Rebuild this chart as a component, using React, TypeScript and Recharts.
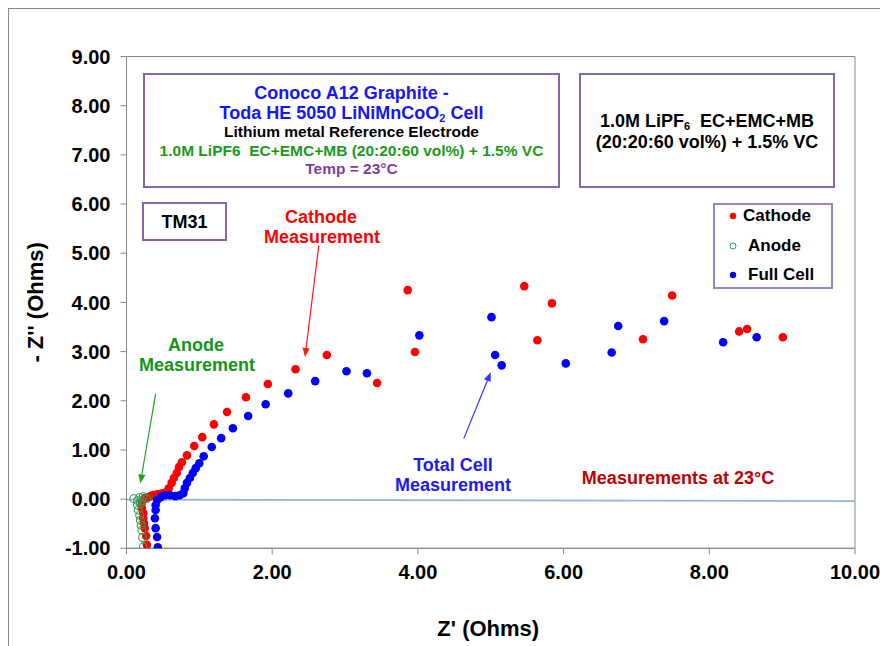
import React from 'react';
import { ScatterChart, Scatter, XAxis, YAxis, ReferenceLine, ReferenceArea, Legend } from 'recharts';

const FONT = "'Liberation Sans', Arial, Helvetica, sans-serif";

const xTicks = [0, 2, 4, 6, 8, 10];
const yTicks = [-1, 0, 1, 2, 3, 4, 5, 6, 7, 8, 9];
const seriesOrder = ['Cathode', 'Anode', 'Full Cell'];

// Z' (Ohms), -Z'' (Ohms)
const cathode: [number, number][] = [
  [0.28, -0.93], [0.27, -0.75], [0.25, -0.59], [0.24, -0.49], [0.23, -0.39], [0.23, -0.28],
  [0.21, -0.18], [0.21, -0.08], [0.25, 0.02], [0.30, 0.04], [0.33, 0.06], [0.36, 0.08],
  [0.40, 0.09], [0.43, 0.10], [0.47, 0.11], [0.50, 0.12], [0.53, 0.13], [0.56, 0.14],
  [0.58, 0.22], [0.62, 0.33], [0.65, 0.43], [0.69, 0.53], [0.72, 0.65], [0.76, 0.75],
  [0.83, 0.89], [0.93, 1.08], [1.04, 1.26], [1.20, 1.52], [1.38, 1.77], [1.64, 2.07],
  [1.94, 2.34], [2.32, 2.64], [2.75, 2.93], [3.44, 2.36], [3.86, 4.25], [3.96, 2.99],
  [5.46, 4.33], [5.64, 3.23], [5.84, 3.98], [7.09, 3.25], [7.49, 4.14], [8.41, 3.41],
  [8.52, 3.46], [9.01, 3.29],
];

const anode: [number, number][] = [
  [0.10, 0.01], [0.18, 0.03], [0.23, 0.05], [0.28, 0.01], [0.15, -0.03], [0.21, -0.03],
  [0.19, -0.09], [0.15, -0.12], [0.16, -0.22], [0.18, -0.33], [0.19, -0.43], [0.20, -0.53],
  [0.21, -0.63], [0.22, -0.78], [0.23, -0.97],
];

const fullCell: [number, number][] = [
  [0.43, -0.98], [0.42, -0.77], [0.40, -0.59], [0.39, -0.39], [0.40, -0.22], [0.40, -0.12],
  [0.42, -0.02], [0.47, 0.04], [0.53, 0.08], [0.60, 0.08], [0.67, 0.06], [0.73, 0.08],
  [0.78, 0.12], [0.80, 0.22], [0.83, 0.33], [0.87, 0.43], [0.91, 0.53], [0.95, 0.63],
  [1.00, 0.73], [1.06, 0.87], [1.17, 1.06], [1.30, 1.24], [1.46, 1.44], [1.67, 1.69],
  [1.91, 1.93], [2.22, 2.15], [2.59, 2.40], [3.02, 2.60], [3.30, 2.56], [4.02, 3.33],
  [5.01, 3.70], [5.06, 2.93], [5.15, 2.72], [6.03, 2.76], [6.66, 2.98], [6.75, 3.52],
  [7.38, 3.62], [8.19, 3.19], [8.65, 3.29],
];

const baselineSegment: [number, number][] = [[0, -0.01], [10, -0.04]];
const cathodeArrow: [number, number][] = [[2.64, 5.16], [2.45, 2.89]];
const anodeArrow: [number, number][] = [[0.40, 2.14], [0.19, 0.32]];
const cellArrow: [number, number][] = [[4.63, 1.23], [5.00, 2.58]];

const toPts = (a: [number, number][]) => a.map(([x, y]) => ({ x, y }));
const toSeg = (a: [number, number][]) => a.map(([x, y]) => ({ x, y }));

const seriesStyle: Record<string, { color: string; open: boolean }> = {
  Cathode: { color: '#ff0000', open: false },
  Anode: { color: '#2aa152', open: true },
  'Full Cell': { color: '#0000ff', open: false },
};

const dot = (fill: string) => (p: any) => <circle cx={p.cx} cy={p.cy} r={4.3} fill={fill} />;
const ring = (stroke: string) => (p: any) => (
  <circle cx={p.cx} cy={p.cy} r={3.9} fill="none" stroke={stroke} strokeWidth={1.1} />
);

const arrowShape = (color: string) => (props: any) => {
  const x1 = Number(props.x1), y1 = Number(props.y1), x2 = Number(props.x2), y2 = Number(props.y2);
  const dx = x2 - x1, dy = y2 - y1;
  const len = Math.hypot(dx, dy) || 1;
  const ux = dx / len, uy = dy / len;
  const hl = 9, hw = 3.6;
  const bx = x2 - ux * hl, by = y2 - uy * hl;
  const pts = `${x2},${y2} ${bx - uy * hw},${by + ux * hw} ${bx + uy * hw},${by - ux * hw}`;
  return (
    <g>
      <line x1={x1} y1={y1} x2={bx} y2={by} stroke={color} strokeWidth={1.2} />
      <polygon points={pts} fill={color} />
    </g>
  );
};

const LegendBox = (props: any) => {
  const raw = props.payload || [];
  const payload = [...raw].sort(
    (a: any, b: any) => seriesOrder.indexOf(a.value) - seriesOrder.indexOf(b.value),
  );
  return (
    <div
      style={{
        boxSizing: 'border-box', width: 120, height: 86, border: '2px solid #9a86bf',
        background: '#fff', fontFamily: FONT, fontWeight: 'bold', fontSize: 17, color: '#000',
        position: 'relative',
      }}
    >
      {payload.map((e: any, i: number) => {
        const st = seriesStyle[e.value] || { color: e.color, open: false };
        const cy = 11 + i * 29.5;
        return (
          <div key={e.value} style={{ position: 'absolute', left: 0, top: cy - 10, height: 20, width: 116 }}>
            <svg width={12} height={20} style={{ position: 'absolute', left: 12, top: 0 }}>
              {st.open ? (
                <circle cx={6} cy={10} r={3} fill="none" stroke={st.color} strokeWidth={1} />
              ) : (
                <circle cx={6} cy={10} r={3.2} fill={st.color} />
              )}
            </svg>
            <span style={{ position: 'absolute', left: i === 0 ? 28 : 33, top: 0, lineHeight: '20px', whiteSpace: 'nowrap' }}>
              {e.value}
            </span>
          </div>
        );
      })}
    </div>
  );
};

const textLine = (
  text: React.ReactNode, left: number, width: number, cy: number, size: number, color: string,
) => {
  const h = Math.round(size);
  return (
    <div
      style={{
        position: 'absolute', left, width, top: cy - h / 2, height: h, lineHeight: `${h}px`,
        textAlign: 'center', fontFamily: FONT, fontWeight: 'bold', fontSize: size, color,
        whiteSpace: 'pre',
      }}
    >
      {text}
    </div>
  );
};

const boxStyle = (left: number, top: number, width: number, height: number): React.CSSProperties => ({
  position: 'absolute', left, top, width, height, boxSizing: 'border-box',
  border: '2px solid #8567a8', background: '#fff',
});

const sub = (t: string) => (
  <span style={{ fontSize: 11, position: 'relative', top: 3, lineHeight: 0 }}>{t}</span>
);

const YLabel = (props: any) => {
  const vb = props.viewBox || { x: 57.5, y: 47.5, width: 60, height: 491.8 };
  const x = vb.x - 30.5;
  const y = vb.y + vb.height / 2;
  return (
    <text
      x={x} y={y} transform={`rotate(-90, ${x}, ${y})`} textAnchor="middle" dominantBaseline="central"
      fontFamily={FONT} fontWeight="bold" fontSize={22} fill="#000"
    >
      - Z'' (Ohms)
    </text>
  );
};

const XLabel = (props: any) => {
  const vb = props.viewBox || { x: 117.5, y: 539.3, width: 728.5, height: 30 };
  const x = vb.x + vb.width / 2 - 2.5;
  const y = vb.y + 80;
  return (
    <text x={x} y={y} textAnchor="middle" dominantBaseline="central" fontFamily={FONT} fontWeight="bold" fontSize={22} fill="#000">
      Z' (Ohms)
    </text>
  );
};

const tickStyle = { fill: '#000', fontSize: 20, fontWeight: 'bold', fontFamily: FONT };

export default function App() {
  return (
    <div
      style={{
        position: 'relative', width: 880, height: 638, borderLeft: '1px solid #8a8a8a',
        borderTop: '1px solid #8a8a8a', overflow: 'hidden', background: '#fff',
      }}
    >
      <style>{'html,body{overflow:hidden;}'}</style>
      <ScatterChart
        width={879}
        height={637}
        margin={{ top: 47.5, right: 33, bottom: 67.7, left: 57.5 }}
      >
        <XAxis
          type="number" dataKey="x" domain={[0, 10]} ticks={xTicks} allowDataOverflow
          tickFormatter={(v: number) => v.toFixed(2)} tick={tickStyle}
          axisLine={{ stroke: '#868686' }} tickLine={{ stroke: '#868686' }} tickSize={6} tickMargin={10}
          height={30} label={{ content: XLabel }}
        />
        <YAxis
          type="number" dataKey="y" domain={[-1, 9]} ticks={yTicks} allowDataOverflow
          tickFormatter={(v: number) => v.toFixed(2)} tick={tickStyle}
          axisLine={{ stroke: '#868686' }} tickLine={{ stroke: '#868686' }} tickSize={6} tickMargin={10}
          width={60} label={{ content: YLabel }}
        />
        <ReferenceArea x1={0} x2={10} y1={-1} y2={9} fill="none" stroke="#868686" strokeWidth={1} />
        <ReferenceLine segment={toSeg(baselineSegment)} stroke="#95b3d7" strokeWidth={1.6} />
        <Scatter name="Cathode" data={toPts(cathode)} fill="#ff0000" shape={dot('#ff0000')} isAnimationActive={false} />
        <Scatter name="Anode" data={toPts(anode)} fill="#2aa152" shape={ring('#2aa152')} isAnimationActive={false} />
        <Scatter name="Full Cell" data={toPts(fullCell)} fill="#0000ff" shape={dot('#0000ff')} isAnimationActive={false} />
        <ReferenceLine segment={toSeg(cathodeArrow)} shape={arrowShape('#ff1a1a')} />
        <ReferenceLine segment={toSeg(anodeArrow)} shape={arrowShape('#23a023')} />
        <ReferenceLine segment={toSeg(cellArrow)} shape={arrowShape('#3535ff')} />
        <Legend
          layout="vertical" align="center" verticalAlign="middle"
          content={(p: any) => <LegendBox payload={p.payload} />}
          wrapperStyle={{ position: 'absolute', left: 704, top: 194, width: 120, height: 86, margin: 0 }}
        />
      </ScatterChart>

      {/* Title box */}
      <div style={boxStyle(134, 64, 417, 115)} />
      {textLine('Conoco A12 Graphite -', 134, 417, 84.3, 18, '#1414ff')}
      {textLine(<span>Toda HE 5050 LiNiMnCoO{sub('2')} Cell</span>, 134, 417, 104, 18, '#1414ff')}
      {textLine('Lithium metal Reference Electrode', 134, 417, 123.4, 15.5, '#000')}
      {textLine('1.0M LiPF6  EC+EMC+MB (20:20:60 vol%) + 1.5% VC', 134, 417, 141.7, 15.5, '#1a9a1a')}
      {textLine('Temp = 23°C', 134, 417, 160, 15.5, '#7f3fa0')}

      {/* Electrolyte box */}
      <div style={boxStyle(570, 64, 256, 115)} />
      {textLine(<span>1.0M LiPF{sub('6')}  EC+EMC+MB</span>, 570, 256, 111.8, 18, '#000')}
      {textLine('(20:20:60 vol%) + 1.5% VC', 570, 256, 132.5, 18, '#000')}

      {/* TM31 box */}
      <div style={boxStyle(133, 193, 85, 39)} />
      {textLine('TM31', 133, 85, 212.5, 18, '#000')}

      {/* Annotations */}
      {textLine('Cathode', 232, 160, 207.7, 18, '#ff0000')}
      {textLine('Measurement', 233, 160, 227.7, 18, '#ff0000')}
      {textLine('Anode', 107, 160, 336, 18, '#12961a')}
      {textLine('Measurement', 108, 160, 356, 18, '#12961a')}
      {textLine('Total Cell', 364, 160, 455.5, 18, '#1a1aff')}
      {textLine('Measurement', 364, 160, 476, 18, '#1a1aff')}
      {textLine('Measurements at 23°C', 569, 200, 469, 18, '#c00000')}
    </div>
  );
}
